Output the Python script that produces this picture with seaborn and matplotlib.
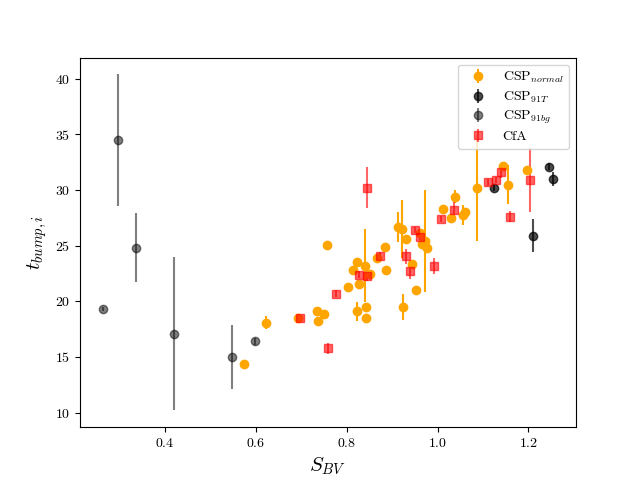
import numpy as np
import matplotlib
matplotlib.use("Agg")
import matplotlib.pyplot as plt
import seaborn as sns

# CSP normal
sbv_normal = [0.575, 0.623, 0.692, 0.734, 0.736, 0.751, 0.756, 0.802, 0.813, 0.822,
              0.822, 0.827, 0.840, 0.842, 0.842, 0.851, 0.866, 0.884, 0.886, 0.913,
              0.922, 0.924, 0.930, 0.944, 0.952, 0.961, 0.966, 0.972, 0.976, 1.012,
              1.030, 1.039, 1.056, 1.061, 1.087, 1.145, 1.156, 1.196]
t_normal = [14.4, 18.1, 18.5, 19.1, 18.2, 18.9, 25.1, 21.3, 22.8, 23.5,
            19.1, 21.6, 23.2, 19.5, 18.5, 22.5, 23.9, 24.9, 22.8, 26.7,
            26.5, 19.5, 25.6, 23.4, 21.0, 26.1, 25.2, 25.4, 24.8, 28.3,
            27.5, 29.4, 27.8, 28.0, 30.2, 32.2, 30.5, 31.8]
err_normal = [0.2, 0.55, 0.2, 0.2, 0.2, 0.2, 0.2, 0.2, 0.2, 0.2,
              0.85, 0.2, 3.3, 0.2, 0.2, 0.2, 0.2, 0.2, 0.2, 1.35,
              2.6, 1.2, 0.2, 0.2, 0.2, 0.2, 0.2, 4.6, 0.2, 0.2,
              0.2, 0.6, 0.9, 0.2, 4.75, 0.2, 1.75, 0.2]

# CSP 91T
sbv_91t = [1.125, 1.211, 1.246, 1.255]
t_91t = [30.2, 25.9, 32.1, 31.0]
err_91t = [0.3, 1.5, 0.3, 0.6]

# CSP 91bg
sbv_91bg = [0.263, 0.296, 0.336, 0.420, 0.548, 0.599]
t_91bg = [19.3, 34.5, 24.8, 17.1, 15.0, 16.4]
err_91bg = [0.2, 5.9, 3.1, 6.9, 2.9, 0.3]

# CfA
sbv_cfa = [0.698, 0.760, 0.776, 0.844, 0.827, 0.844, 0.873, 0.930, 0.939, 0.950,
           0.961, 0.992, 1.008, 1.036, 1.112, 1.129, 1.140, 1.160, 1.204]
t_cfa = [18.5, 15.8, 20.7, 30.2, 22.4, 22.3, 24.1, 24.05, 22.7, 26.4,
         25.8, 23.2, 27.4, 28.2, 30.7, 30.9, 31.6, 27.6, 30.9]
err_cfa = [0.3, 0.5, 0.3, 1.85, 0.3, 0.5, 0.3, 0.7, 0.7, 0.3,
           0.3, 0.7, 0.3, 0.8, 0.3, 0.3, 0.5, 0.5, 2.9]

sns.set_style("ticks", {"axes.edgecolor": "black", "xtick.color": "black",
                        "ytick.color": "black", "text.color": "black",
                        "axes.labelcolor": "black"})
plt.rcParams["font.family"] = ["cmr10", "DejaVu Serif"]
plt.rcParams["mathtext.fontset"] = "cm"
plt.rcParams["axes.formatter.use_mathtext"] = True
plt.rcParams["xtick.direction"] = "out"
plt.rcParams["ytick.direction"] = "out"

fig, ax = plt.subplots(figsize=(6.4, 4.8), dpi=100)

ax.errorbar(sbv_normal, t_normal, yerr=err_normal, fmt="o", color="orange",
            label=r"CSP$_{normal}$")
ax.errorbar(sbv_91t, t_91t, yerr=err_91t, fmt="o", color="k", alpha=0.7,
            label=r"CSP$_{91T}$")
ax.errorbar(sbv_91bg, t_91bg, yerr=err_91bg, fmt="o", color="k", alpha=0.5,
            label=r"CSP$_{91bg}$")
ax.errorbar(sbv_cfa, t_cfa, yerr=err_cfa, fmt="s", color="r", alpha=0.6,
            label="CfA")

ax.set_xlabel(r"$S_{BV}$", fontsize=15)
ax.set_ylabel(r"$t_{bump,i}$", fontsize=15)
ax.legend(loc="upper right", labelspacing=0.3)

fig.savefig("out.png", dpi=100)
